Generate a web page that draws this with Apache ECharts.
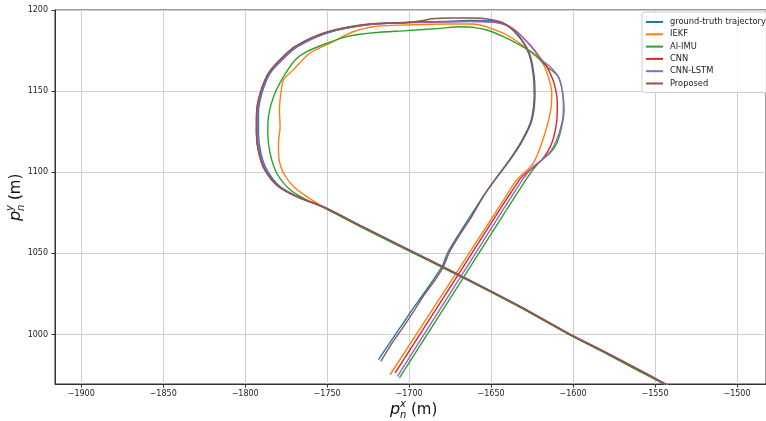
<!DOCTYPE html>
<html>
<head>
<meta charset="utf-8">
<script src="https://cdn.jsdelivr.net/npm/echarts@6/dist/echarts.min.js"></script>
<style>
html, body { margin: 0; padding: 0; background: #fff; }
#chart { width: 766px; height: 421px; }
</style>
</head>
<body>
<div id="chart"></div>
<script>
// series names and colours (matplotlib tab10)
var names = ['ground-truth trajectory', 'IEKF', 'AI-IMU', 'CNN', 'CNN-LSTM', 'Proposed'];
var colors = ['#1f77b4', '#ff7f0e', '#2ca02c', '#d62728', '#9467bd', '#8c564b'];

// trajectories [px, py]
var ground_truth = [[-1540.9,967.9],[-1559.1,977.7],[-1583.5,990.6],[-1601.8,999.9],[-1632.3,1017.1],[-1668.9,1036.2],[-1705.5,1054.7],[-1729.9,1067],[-1751.2,1078.1],[-1766.5,1084.2],[-1778.7,1091.2],[-1786.8,1101.5],[-1790.4,1111.8],[-1791.9,1124.1],[-1791.9,1136.4],[-1789.8,1148.7],[-1784.8,1161],[-1777.4,1169.2],[-1768.3,1177.2],[-1750,1185.8],[-1725.6,1190.8],[-1701.2,1192.3],[-1681.1,1192.9],[-1662.8,1193.5],[-1648.8,1193.2],[-1638.4,1189.5],[-1631.1,1181.5],[-1626.2,1172.3],[-1623.8,1160],[-1623.2,1148.9],[-1625,1132.3],[-1630.5,1120],[-1638.4,1107.6],[-1647.6,1095.3],[-1654.9,1084.9],[-1676.2,1051],[-1680.1,1041.6],[-1699.4,1013.4],[-1718.7,984.5]];

var iekf = [[-1540.9,967.9],[-1559.1,977.8],[-1583.5,990.5],[-1601.8,999.8],[-1632.3,1017],[-1668.9,1036.1],[-1705.5,1054.6],[-1729.9,1066.9],[-1751.2,1077.9],[-1762.4,1085],[-1770.5,1091.2],[-1776.6,1099.4],[-1779.3,1107.6],[-1779.7,1117.9],[-1778.7,1128.1],[-1779.1,1138.4],[-1778.2,1148.7],[-1776.6,1156.9],[-1770.7,1163.1],[-1760.4,1173.5],[-1746.3,1180.5],[-1734.1,1186.6],[-1722,1189.7],[-1701.2,1190.8],[-1676.8,1191.4],[-1661,1191.4],[-1644.5,1186.5],[-1635.4,1181.5],[-1627.4,1175.4],[-1619.1,1168],[-1615.1,1158.9],[-1613,1148.7],[-1613.6,1138.4],[-1617.1,1124.1],[-1624.2,1105.6],[-1634.3,1095.3],[-1642.3,1083],[-1672,1036.8],[-1711.6,975.2]];

var ai_imu = [[-1541.5,967.9],[-1559.5,977.3],[-1583.5,990.2],[-1601.8,999.6],[-1632.3,1016.7],[-1668.9,1035.8],[-1705.5,1054.2],[-1729.9,1066.5],[-1751.2,1077.7],[-1762.4,1083],[-1772.6,1089.2],[-1780.7,1099.4],[-1784.8,1111.8],[-1786.2,1124.1],[-1785.8,1134.3],[-1782.7,1146.6],[-1776.6,1158.9],[-1769.5,1169.2],[-1762.4,1174.3],[-1750.2,1179.5],[-1738,1183.6],[-1721.8,1186],[-1701.4,1187.3],[-1681.1,1188.7],[-1668.9,1189.7],[-1660.8,1189.3],[-1652.6,1187.7],[-1642.5,1183.6],[-1632.3,1178.4],[-1624.2,1173.3],[-1616,1165.1],[-1609,1158.9],[-1606.3,1148.7],[-1605.5,1138.4],[-1606.9,1128.1],[-1609.9,1117.9],[-1614,1111.8],[-1621.2,1105.6],[-1628.8,1095.3],[-1666.4,1035.8],[-1705.9,973.2]];

var cnn = [[-1540.9,967.9],[-1559.1,977.9],[-1583.5,990.8],[-1601.8,1000.1],[-1632.3,1017.3],[-1668.9,1036.4],[-1705.5,1054.9],[-1729.9,1067.2],[-1751.5,1078.4],[-1767.5,1084.6],[-1779.8,1091.4],[-1788,1101.5],[-1791.6,1111.8],[-1793.1,1124.1],[-1793,1136.4],[-1790.8,1148.7],[-1785.8,1161],[-1778.5,1169.5],[-1769.2,1177.6],[-1750.5,1186.2],[-1725.6,1191.1],[-1701.2,1192.3],[-1681.1,1192.7],[-1662.8,1193],[-1648.8,1192.6],[-1637.2,1188.9],[-1626.2,1178.4],[-1619.1,1169.2],[-1616,1165.1],[-1611.6,1154.9],[-1609.6,1142.5],[-1609.9,1132.3],[-1613,1117.9],[-1619.1,1107.6],[-1626.2,1101.5],[-1632.7,1095.3],[-1670.7,1035.8],[-1708.5,976.3]];

var cnn_lstm = [[-1540.9,968.1],[-1559.1,978],[-1583.5,990.9],[-1601.8,1000.2],[-1632.3,1017.4],[-1668.9,1036.5],[-1705.5,1055],[-1729.9,1067.3],[-1751.4,1078.3],[-1767,1084.4],[-1779.2,1091.3],[-1787.4,1101.5],[-1791,1111.8],[-1792.5,1124.1],[-1792.4,1136.4],[-1790.3,1148.7],[-1785.2,1161],[-1777.8,1169.3],[-1768.7,1177.4],[-1750.2,1186],[-1725.6,1190.9],[-1701.2,1192.2],[-1681.1,1192.6],[-1662.8,1192.9],[-1648.8,1192.5],[-1637.2,1188.9],[-1626.2,1178.4],[-1619.1,1169.2],[-1614,1165.1],[-1609,1158.9],[-1606.3,1148.7],[-1605.9,1138.4],[-1607.9,1126.1],[-1613,1113.8],[-1619.1,1107.6],[-1624.2,1103.5],[-1630.9,1095.3],[-1668.4,1035.8],[-1707.1,974.2]];

var proposed = [[-1540.9,967.9],[-1559.1,977.8],[-1583.5,990.7],[-1601.8,1000],[-1632.3,1017.2],[-1668.9,1036.3],[-1705.5,1054.8],[-1729.9,1067.1],[-1751.5,1078.3],[-1767.5,1084.5],[-1779.9,1091.3],[-1788.1,1101.5],[-1791.7,1111.8],[-1793.2,1124.1],[-1793.1,1136.4],[-1790.9,1148.7],[-1785.9,1161],[-1778.6,1169.5],[-1769.3,1177.7],[-1750.6,1186.3],[-1725.6,1191.2],[-1701.2,1192.3],[-1691.5,1193.5],[-1686,1194.6],[-1675,1195.1],[-1662.8,1195.1],[-1650.6,1194.2],[-1641.5,1191.4],[-1631.6,1181.7],[-1626.7,1172.3],[-1624.3,1160],[-1623.7,1148.9],[-1625.5,1132.3],[-1631,1120],[-1638.8,1107.6],[-1647.8,1095.3],[-1654.9,1084.9],[-1662.2,1072],[-1669.5,1060.8],[-1675.3,1051],[-1679.2,1041.6],[-1684.5,1033],[-1690.8,1024.5],[-1697.6,1013.6],[-1704,1004],[-1710.5,994.5],[-1717.3,983.4]];

var trajectories = [ground_truth, iekf, ai_imu, cnn, cnn_lstm, proposed];

// axis ranges
var x_range = [-1916, -1482.3];
var y_range = [969.5, 1200];

var chart = echarts.init(document.getElementById('chart'));

function minus(v) {
    return String(v).replace('-', '\u2212');
}

// axis titles built like matplotlib mathtext: p with sub n and sup x / y
function axis_title(sup, x, y, rot) {
    return {
        type: 'group',
        x: x, y: y, rotation: rot,
        children: [
            {type: 'text', x: 0, y: 0, style: {text: 'p', font: 'italic 16px "DejaVu Sans"', fill: '#111', verticalAlign: 'middle'}},
            {type: 'text', x: 10, y: -6, style: {text: sup, font: 'italic 10px "DejaVu Sans"', fill: '#111', verticalAlign: 'middle'}},
            {type: 'text', x: 10, y: 5, style: {text: 'n', font: 'italic 10px "DejaVu Sans"', fill: '#111', verticalAlign: 'middle'}},
            {type: 'text', x: 21, y: 0, style: {text: '(m)', font: '15px "DejaVu Sans"', fill: '#111', verticalAlign: 'middle'}}
        ]
    };
}

var series = [];
for (var i = 0; i < names.length; i++) {
    series.push({
        name: names[i],
        type: 'line',
        data: trajectories[i],
        showSymbol: false,
        smooth: 0.3,
        clip: true,
        color: colors[i],
        lineStyle: {width: 1.4, color: colors[i]},
        emphasis: {disabled: true}
    });
}

var option = {
    animation: false,
    textStyle: {fontFamily: 'DejaVu Sans'},
    grid: {left: 55, top: 10, right: 0, bottom: 37, outerBoundsMode: 'none', show: true, borderColor: '#333', borderWidth: 1},
    legend: {
        data: names,
        orient: 'vertical',
        left: 642, top: 12,
        icon: 'rect',
        itemWidth: 17, itemHeight: 2,
        itemGap: 2.3,
        padding: [5, 4, 4, 4],
        backgroundColor: 'rgba(255,255,255,0.85)',
        borderColor: '#cccccc', borderWidth: 1, borderRadius: 3,
        textStyle: {fontSize: 8.3, lineHeight: 10, color: '#222', padding: [0, 0, 0, 2]}
    },
    xAxis: {
        type: 'value',
        min: x_range[0], max: x_range[1],
        splitNumber: 8,
        axisLine: {show: true, lineStyle: {color: '#333', width: 1}},
        axisTick: {show: true, length: 3.5, lineStyle: {color: '#333'}},
        axisLabel: {fontSize: 8, color: '#222', margin: 6, formatter: minus, showMinLabel: false, showMaxLabel: false},
        splitLine: {show: true, lineStyle: {color: '#cfcfcf', width: 1}}
    },
    yAxis: {
        type: 'value',
        min: y_range[0], max: y_range[1],
        splitNumber: 5,
        axisLine: {show: true, lineStyle: {color: '#333', width: 1}},
        axisTick: {show: true, length: 3.5, lineStyle: {color: '#333'}},
        axisLabel: {fontSize: 8, color: '#222', margin: 7, formatter: function(v) { return String(v); }, showMinLabel: false},
        splitLine: {show: true, lineStyle: {color: '#cfcfcf', width: 1}}
    },
    graphic: [
        axis_title('x', 390, 410, 0),
        axis_title('y', 16, 221, Math.PI / 2)
    ],
    series: series
};

chart.setOption(option);
</script>
</body>
</html>
